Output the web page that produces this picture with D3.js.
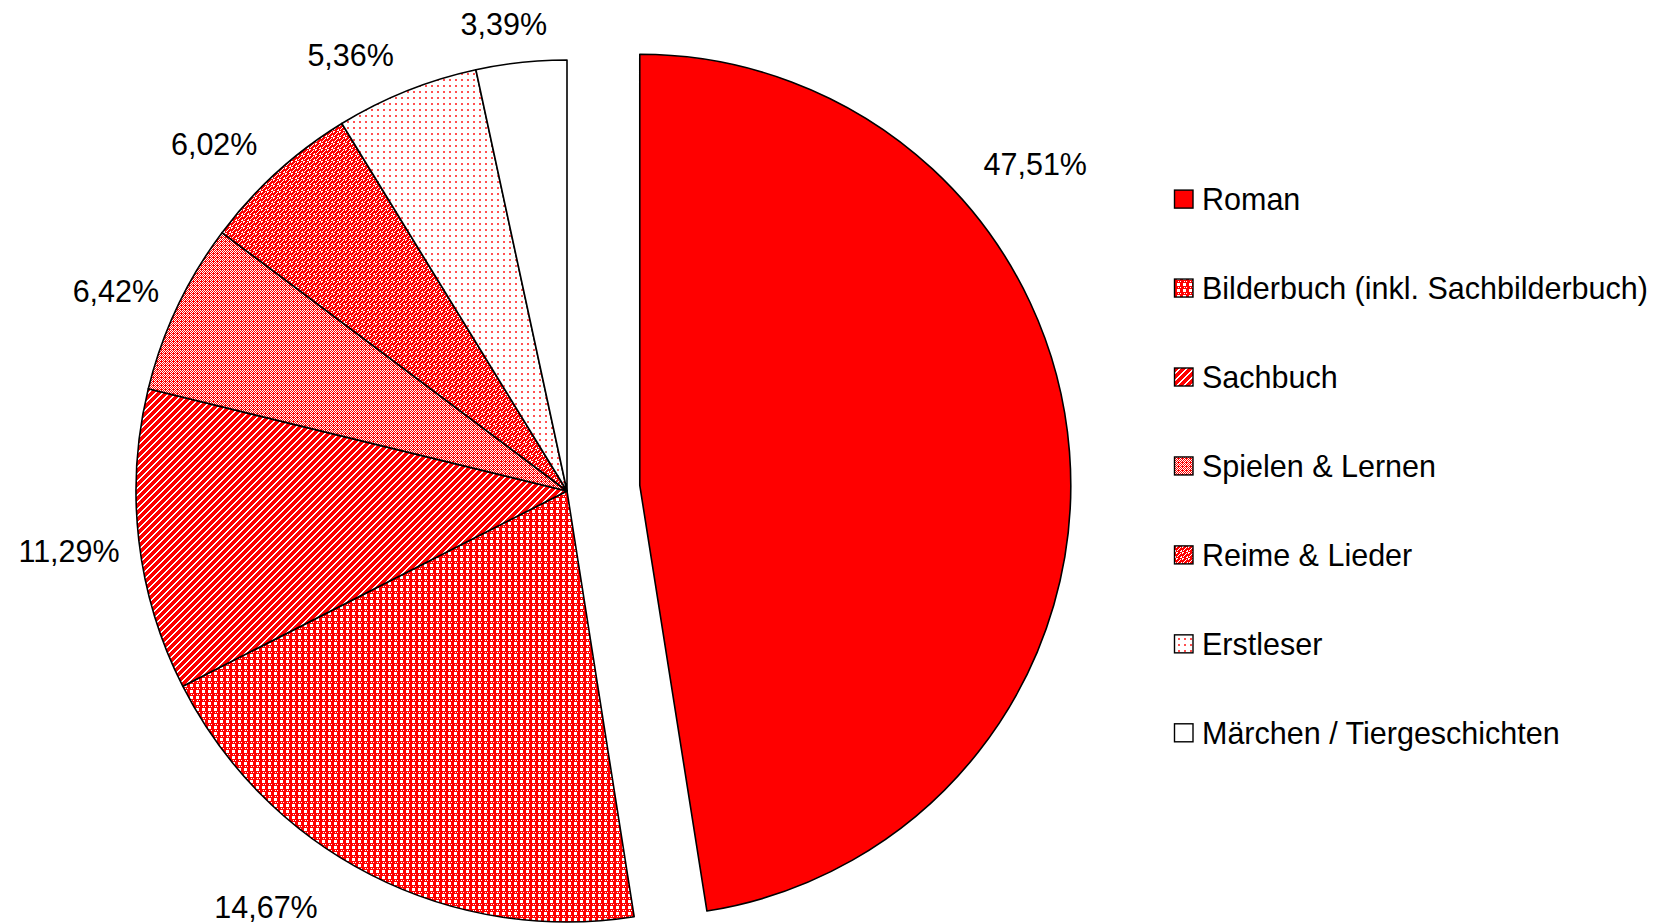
<!DOCTYPE html>
<html>
<head>
<meta charset="utf-8">
<script src="https://cdn.jsdelivr.net/npm/d3@7"></script>
<style>
  html, body { margin: 0; padding: 0; background: #ffffff; }
  svg { display: block; font-family: "Liberation Sans", Arial, sans-serif; }
</style>
</head>
<body>
<svg id="chart" width="1657" height="923"></svg>
<script>
// ---------- data ----------
const categories = [
  "Roman",
  "Bilderbuch (inkl. Sachbilderbuch)",
  "Sachbuch",
  "Spielen & Lernen",
  "Reime & Lieder",
  "Erstleser",
  "Märchen / Tiergeschichten"
];
// slice shares as measured from the slice angles in the picture
const shares = [47.51, 20.01, 11.29, 6.42, 6.02, 5.36, 3.39];
// data label texts as printed on the chart
const percentLabels = ["47,51%", "14,67%", "11,29%", "6,42%", "6,02%", "5,36%", "3,39%"];

// ---------- layout / style ----------
const W = 1657, H = 923;
const cx = 567, cy = 491, R = 431;
const explodeDist = 73;           // Roman slice pulled out
const explodedIndex = 0;
const fills = ["#ff0000", "url(#pChecker)", "url(#pStripe)", "url(#pFine)", "url(#pWeave)", "url(#pDots)", "#ffffff"];
// label placement (angle in degrees clockwise from 12 o'clock, radius) around each slice's own centre
const labelPolar = [[50.9, 509.6], [215.85, 513.9], [263.1, 501.6], [293.9, 493.4], [314.5, 494.6], [333.6, 486.6], [352.3, 471.2]];
const labelFont = 30.5;
const legendFont = 30.5;

const svg = d3.select("#chart");
svg.append("rect").attr("width", W).attr("height", H).attr("fill", "#fff");

// ---------- patterns (pixel bitmaps: 1 = colour, 0 = white) ----------
const defs = svg.append("defs");
function bitmapPattern(id, rows, colour) {
  const h = rows.length, w = rows[0].length;
  const p = defs.append("pattern").attr("id", id).attr("patternUnits", "userSpaceOnUse")
    .attr("width", w).attr("height", h);
  p.append("rect").attr("width", w).attr("height", h).attr("fill", "#ffffff");
  rows.forEach((row, y) => {
    for (let x = 0; x < w; x++) {
      if (row[x] === "1") {
        p.append("rect").attr("x", x).attr("y", y).attr("width", 1).attr("height", 1)
          .attr("fill", colour).attr("shape-rendering", "crispEdges");
      }
    }
  });
}
// Bilderbuch: red grid with white squares
bitmapPattern("pChecker", [
  "111111",
  "100011",
  "100011",
  "100011",
  "111111",
  "110101"
], "#ff0000");
// Sachbuch: wide upward diagonal stripes
(function () {
  const rows = [];
  for (let y = 0; y < 7; y++) {
    let r = "";
    for (let x = 0; x < 7; x++) {
      const k = (x + y) % 7;
      r += (k === 0 || k === 1) ? "0" : "1";
    }
    rows.push(r);
  }
  bitmapPattern("pStripe", rows, "#ff0000");
})();
// Spielen & Lernen: fine light pattern
bitmapPattern("pFine", [
  "0101",
  "1010",
  "0111",
  "1010"
], "#ff0000");
// Reime & Lieder: red weave with white marks
bitmapPattern("pWeave", [
  "001111",
  "011101",
  "111011",
  "110111",
  "101110",
  "111100"
], "#ff0000");
// Erstleser: sparse red dots
bitmapPattern("pDots", [
  "000000",
  "000000",
  "001100",
  "001100",
  "000000",
  "000000"
], "#ff5050");

// ---------- pie ----------
const pie = d3.pie().sort(null).value(d => d).startAngle(0).endAngle(2 * Math.PI);
const arcs = pie(shares);
const arc = d3.arc().innerRadius(0).outerRadius(R);

function sliceCenter(a, i) {
  if (i !== explodedIndex) return [cx, cy];
  const mid = (a.startAngle + a.endAngle) / 2;
  return [cx + explodeDist * Math.sin(mid), cy - explodeDist * Math.cos(mid)];
}

const gPie = svg.append("g");
gPie.selectAll("path.slice").data(arcs).enter().append("path")
  .attr("class", "slice")
  .attr("transform", (a, i) => { const c = sliceCenter(a, i); return `translate(${c[0]},${c[1]})`; })
  .attr("d", arc)
  .attr("fill", (a, i) => fills[i])
  .attr("stroke", "#000")
  .attr("stroke-width", 1.6)
  .attr("stroke-linejoin", "round");

// ---------- data labels ----------
const capH = 0.716 * labelFont;
gPie.selectAll("text.lbl").data(arcs).enter().append("text")
  .attr("class", "lbl")
  .attr("x", (a, i) => {
    const c = sliceCenter(a, i); const ang = labelPolar[i][0] * Math.PI / 180;
    return c[0] + labelPolar[i][1] * Math.sin(ang);
  })
  .attr("y", (a, i) => {
    const c = sliceCenter(a, i); const ang = labelPolar[i][0] * Math.PI / 180;
    return c[1] - labelPolar[i][1] * Math.cos(ang) + capH / 2;
  })
  .attr("text-anchor", "middle")
  .attr("font-size", labelFont)
  .attr("fill", "#000")
  .text((a, i) => percentLabels[i]);

// ---------- legend ----------
const ly = d3.scaleLinear().domain([0, categories.length - 1]).range([199.1, 732.8]);
const gLeg = svg.append("g");
const items = gLeg.selectAll("g.item").data(categories).enter().append("g").attr("class", "item");
items.append("rect")
  .attr("x", 1174.5).attr("y", (d, i) => ly(i) - 9)
  .attr("width", 18.5).attr("height", 18)
  .attr("fill", (d, i) => fills[i])
  .attr("stroke", "#000").attr("stroke-width", 1.4);
items.append("text")
  .attr("x", 1202)
  .attr("y", (d, i) => ly(i) + 0.716 * legendFont / 2)
  .attr("font-size", legendFont)
  .attr("fill", "#000")
  .text(d => d);
</script>
</body>
</html>
